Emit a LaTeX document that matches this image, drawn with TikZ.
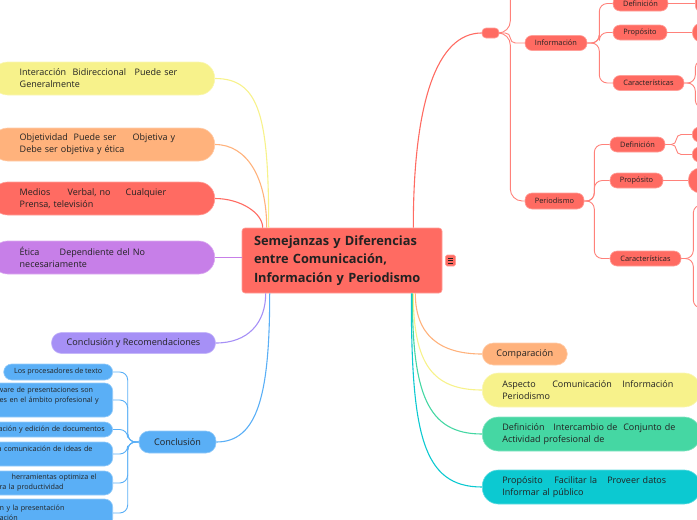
\documentclass[tikz,border=0pt]{standalone}
\usepackage{fontspec}
\setmainfont{Open Sans}
\definecolor{cred}{HTML}{FF6B62}
\definecolor{cyel}{HTML}{F7F28B}
\definecolor{cora}{HTML}{FFB27C}
\definecolor{cpur}{HTML}{C77FE8}
\definecolor{clav}{HTML}{A690F6}
\definecolor{cblu}{HTML}{5AAFF6}
\definecolor{cgrn}{HTML}{45D7A3}
\definecolor{ccya}{HTML}{0CC9D1}
\definecolor{txt}{HTML}{222222}
\newcommand{\cutl}[1]{\hspace*{#1pt}}
\begin{document}
\begin{tikzpicture}[x=1pt,y=-1pt,
  shp/.style={fill=#1, draw=#1!65!white, line width=0.6pt, text=txt},
  lbox/.style={shp=#1, rounded corners=16pt, anchor=east, text width=167pt, inner xsep=28pt, inner ysep=0pt, minimum height=33pt, align=left, font=\fontsize{9}{12}\selectfont},
  rbox/.style={shp=#1, rounded corners=16pt, anchor=west, text width=178pt, inner xsep=20pt, inner ysep=0pt, minimum height=34pt, align=left, font=\fontsize{9}{12.5}\selectfont},
  pill/.style={shp=#1, rounded corners=10pt, inner sep=0pt, minimum height=21pt, font=\fontsize{9.1}{10}\selectfont},
  cbox/.style={shp=cblu, rounded corners=8pt, anchor=east, text width=200pt, inner xsep=6pt, inner ysep=0pt, align=left, font=\fontsize{7.2}{10}\selectfont},
  rsm/.style={shp=cred, rounded corners=7pt, inner sep=0pt, minimum height=15pt, font=\fontsize{7.4}{8}\selectfont},
  stub/.style={shp=cred, rounded corners=7pt, inner sep=0pt, anchor=west, minimum width=50pt},
  conn/.style={draw=#1, line width=1.1pt},
  sub/.style={draw=cred!85!white, line width=0.9pt},
  csub/.style={draw=cblu, line width=0.9pt}
]
\useasboundingbox (0,0) rectangle (697,520);

% Central node
\node[shp=cred, rounded corners=3pt, text width=176pt, inner xsep=12pt, inner ysep=0pt, minimum height=65pt, align=left,
  font=\fontsize{12.8}{18.5}\selectfont\bfseries] (root) at (342,260.5)
  {Semejanzas y Diferencias\\entre Comunicación,\\Información y Periodismo};
\node[shp=cred, rounded corners=1.5pt, minimum width=10pt, minimum height=11pt, inner sep=0pt] (menu) at (450.5,260.5) {};
\foreach \dy in {-2.6,0,2.6}
  \draw[txt, line width=0.7pt] ([xshift=-2.6pt,yshift=\dy pt]menu.center) -- ++(5.2,0);

% Left nodes
\node[lbox=cyel] (yel) at (215,78.5) {\makebox[53pt][l]{Interacción}\makebox[62pt][l]{Bidireccional}Puede ser\\Generalmente};
\node[lbox=cora] (ora) at (215,144.5) {\makebox[54pt][l]{Objetividad}\makebox[59pt][l]{Puede ser}Objetiva y\\Debe ser objetiva y ética};
\node[lbox=cred] (med) at (215,198.5) {\makebox[48pt][l]{Medios}\makebox[58pt][l]{Verbal, no}Cualquier\\Prensa, televisión};
\node[lbox=cpur] (eti) at (215,257.5) {\makebox[40pt][l]{Ética}Dependiente del No\\necesariamente};
\node[pill=clav, minimum width=164pt] (rec) at (133.5,343) {Conclusión y Recomendaciones};
\node[pill=cblu, minimum width=77pt, minimum height=22pt] (conc) at (177.5,442) {Conclusión};

% Conclusion children
\node[cbox, text width=, align=center, minimum width=109pt, minimum height=16pt] (c1) at (113,372) {Los procesadores de texto};
\node[cbox, minimum height=34pt] (c2) at (113,400) {\cutl{91}ware de presentaciones son\\\cutl{93}es en el ámbito profesional y\\\mbox{}};
\node[cbox, minimum height=15pt] (c3) at (113,429.5) {\cutl{92}ación y edición de documentos};
\node[cbox, minimum height=24pt] (c4) at (113,454) {\cutl{91}a comunicación de ideas de\\\mbox{}};
\node[cbox, minimum height=24pt] (c5) at (113,483) {\cutl{105}herramientas optimiza el\\\cutl{93}ra la productividad};
\node[cbox, minimum height=28pt] (c6) at (113,513) {\cutl{93}n y la presentación\\\cutl{93}ación};

% Right red branch
\node[rsm, minimum width=17pt, minimum height=10pt, rounded corners=4pt] (emp) at (490.5,33) {};
\coordinate (topc) at (540,-40);
\node[rsm, minimum width=62pt] (inf) at (556,43) {Información};
\node[rsm, minimum width=55pt] (idef) at (640.5,3.5) {Definición};
\node[rsm, minimum width=54pt] (iprop) at (640,32.5) {Propósito};
\node[rsm, minimum width=71pt] (icar) at (648.5,83) {Características};
\node[rsm, minimum width=59pt, minimum height=16pt] (per) at (554.5,201) {Periodismo};
\node[rsm, minimum width=55pt] (pdef) at (637.5,144.5) {Definición};
\node[rsm, minimum width=53pt] (pprop) at (636.5,180.5) {Propósito};
\node[rsm, minimum width=71pt] (pcar) at (645.5,258.5) {Características};

\node[stub, minimum height=18pt] (r1) at (695,3.5) {};
\node[stub, minimum height=20pt, rounded corners=10pt] (r2) at (692,32.5) {};
\coordinate (r3a) at (740,60);
\coordinate (r3b) at (740,108);
\node[stub, minimum height=15pt] (r4a) at (692,134.5) {};
\node[stub, minimum height=15pt] (r4b) at (692,154.5) {};
\node[stub, minimum height=25pt, rounded corners=12pt] (r5) at (688,180.5) {};
\coordinate (r6a) at (740,205);
\coordinate (r6b) at (740,308);

% Bottom-right nodes
\node[pill=cora, anchor=west, minimum width=85pt, minimum height=22pt, rounded corners=11pt] (cmp) at (482,354) {Comparación};
\node[rbox=cyel] (asp) at (482,390) {\makebox[50pt][l]{Aspecto}\makebox[70pt][l]{Comunicación}Información\\Periodismo};
\node[rbox=cgrn] (dfn) at (482,434) {\makebox[51pt][l]{Definición}\makebox[70pt][l]{Intercambio de}Conjunto de\\Actividad profesional de};
\node[rbox=ccya] (prp) at (482,487) {\makebox[52pt][l]{Propósito}\makebox[53pt][l]{Facilitar la}Proveer datos\\Informar al público};

% Left connectors
\draw[conn=cyel] (yel.east) .. controls +(45,0) and +(0,-110) .. ([xshift=27pt]root.north west);
\draw[conn=cora] (ora.east) .. controls +(32,0) and +(0,-50) .. ([xshift=25pt]root.north west);
\draw[conn=cred] (med.east) .. controls +(25,0) and +(0,-15) .. ([xshift=21pt]root.north west);
\draw[conn=cpur] (eti.east) -- (eti.east -| root.west);
\draw[conn=clav] (rec.east) .. controls +(32,0) and +(0,30) .. ([xshift=24pt]root.south west);
\draw[conn=cblu] (conc.east) .. controls +(42,0) and +(0,100) .. ([xshift=28pt]root.south west);
\foreach \c in {c1,c2,c3,c4,c5,c6}
  \draw[csub, rounded corners=8pt] (conc.west) -- ++(-11,0) |- (\c.east);
% Top red branch
\draw[conn=cred] ([xshift=-29pt]root.north east) .. controls +(0,-125) and +(-45,0) .. (emp.west);
\draw[sub, rounded corners=5pt] (emp.east) -- ++(11,0) |- (inf.west);
\draw[sub, rounded corners=12pt] (emp.east) -- ++(11,0) |- (per.west);
\draw[sub, rounded corners=12pt] (emp.east) -- ++(11,0) |- (topc);
\foreach \c in {idef,iprop,icar}
  \draw[sub, rounded corners=8pt] (inf.east) -- ++(12,0) |- (\c.west);
\foreach \c in {pdef,pprop,pcar}
  \draw[sub, rounded corners=8pt] (per.east) -- ++(10,0) |- (\c.west);
\draw[sub] (idef.east) -- (r1.west);
\draw[sub] (iprop.east) -- (r2.west);
\draw[sub, rounded corners=8pt] (icar.east) -- ++(11,0) |- (r3a);
\draw[sub, rounded corners=8pt] (icar.east) -- ++(11,0) |- (r3b);
\draw[sub, rounded corners=5pt] (pdef.east) -- ++(11,0) |- (r4a.west);
\draw[sub, rounded corners=5pt] (pdef.east) -- ++(11,0) |- (r4b.west);
\draw[sub] (pprop.east) -- (r5.west);
\draw[sub, rounded corners=8pt] (pcar.east) -- ++(12,0) |- (r6a);
\draw[sub, rounded corners=8pt] (pcar.east) -- ++(12,0) |- (r6b);
% Bottom right connectors
\draw[conn=cora] ([xshift=-27pt]root.south east) .. controls +(0,42) and +(-42,0) .. (cmp.west);
\draw[conn=cyel] ([xshift=-29pt]root.south east) .. controls +(0,70) and +(-50,0) .. (asp.west);
\draw[conn=cgrn] ([xshift=-30pt]root.south east) .. controls +(0,100) and +(-55,0) .. (dfn.west);
\draw[conn=ccya] ([xshift=-31pt]root.south east) .. controls +(0,140) and +(-60,0) .. (prp.west);
\end{tikzpicture}
\end{document}
